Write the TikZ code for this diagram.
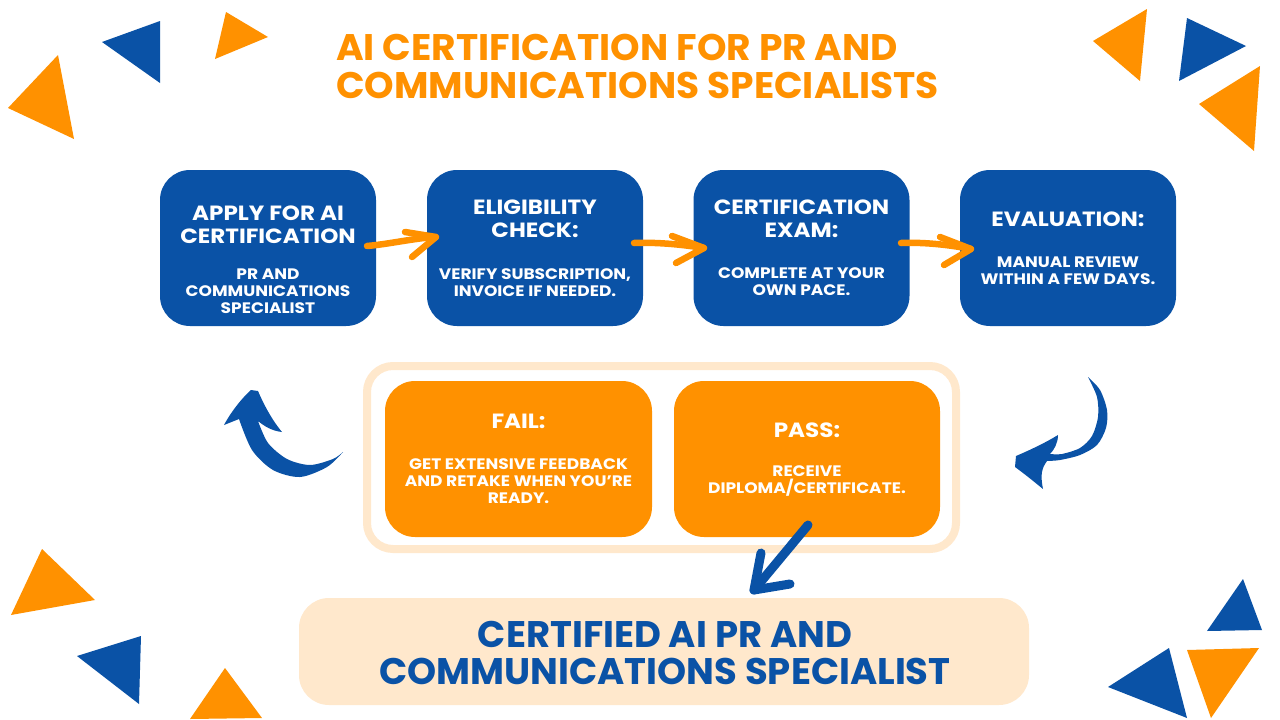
\documentclass[tikz,border=0pt]{standalone}
\usepackage{fontspec}
\setmainfont{Poppins}
\newfontfamily\boxfont{Poppins}[FakeStretch=1.12]
\newfontfamily\titlefont{Poppins}[FakeStretch=1.015]
\definecolor{cblue}{HTML}{0A52A6}
\definecolor{corange}{HTML}{FF9100}
\definecolor{cpeach}{HTML}{FFE8CC}
\tikzset{
  bluebox/.style={fill=cblue, rounded corners=30pt, minimum width=216pt, minimum height=156pt, inner sep=0pt},
  orangebox/.style={fill=corange, rounded corners=30pt, minimum width=267pt, minimum height=156pt, inner sep=0pt},
  headtxt/.style={text=white, font=\boxfont\bfseries\fontsize{20.6}{23}\selectfont, align=center, inner sep=0pt},
  subtxt/.style={text=white, font=\boxfont\bfseries\fontsize{15.2}{17}\selectfont, align=center, inner sep=0pt},
  bigtxt/.style={font=\titlefont\bfseries\fontsize{37}{38}\selectfont, inner sep=0pt},
  oarrow/.style={draw=corange, line width=6.5pt, line cap=round, line join=round},
  barrow/.style={draw=cblue, line width=9pt, line cap=round, line join=round},
}
\begin{document}
\begin{tikzpicture}[x=1pt,y=-1pt]
\useasboundingbox[fill=white] (0,0) rectangle (1280,720);

% decorative triangles
\fill[corange] (8,108) -- (58,55) -- (74,139) -- cycle;
\fill[cblue] (102,42) -- (160,21) -- (160,83) -- cycle;
\fill[corange] (226,12) -- (268,37) -- (215,59) -- cycle;
\fill[corange] (1093,41) -- (1147,9) -- (1140,81) -- cycle;
\fill[cblue] (1187,18) -- (1246,46) -- (1179,81) -- cycle;
\fill[corange] (1199,104) -- (1260,66) -- (1254,151) -- cycle;
\fill[corange] (42,549) -- (95,600) -- (11,615) -- cycle;
\fill[cblue] (77,656) -- (141,636) -- (139,704) -- cycle;
\fill[corange] (225,668) -- (262,718) -- (190,719) -- cycle;
\fill[cblue] (1243,579) -- (1262,630) -- (1207,631) -- cycle;
\fill[cblue] (1108,687) -- (1169,648) -- (1187,718) -- cycle;
\fill[corange] (1187,650) -- (1259,648) -- (1211,718) -- cycle;

% title
\node[bigtxt, text=corange, anchor=base west] (t1) at (336,60) {AI CERTIFICATION FOR PR AND};
\node[bigtxt, text=corange, anchor=base west] (t2) at (336,98) {COMMUNICATIONS SPECIALISTS};

% blue boxes
\node[bluebox] (b1) at (268,248) {};
\node[bluebox] (b2) at (535,248) {};
\node[bluebox] (b3) at (801.5,248) {};
\node[bluebox] (b4) at (1068,248) {};

\node[headtxt] (b1h) at (268,224.5) {APPLY FOR AI\\CERTIFICATION};
\node[subtxt] (b1s) at (268,291) {PR AND\\COMMUNICATIONS\\SPECIALIST};
\node[headtxt] (b2h) at (535,218.5) {ELIGIBILITY\\CHECK:};
\node[subtxt] (b2s) at (535,282.5) {VERIFY SUBSCRIPTION,\\INVOICE IF NEEDED.};
\node[headtxt] (b3h) at (801.5,218.5) {CERTIFICATION\\EXAM:};
\node[subtxt] (b3s) at (801.5,282) {COMPLETE AT YOUR\\OWN PACE.};
\node[headtxt] (b4h) at (1068,219) {EVALUATION:};
\node[subtxt] (b4s) at (1068,270.5) {MANUAL REVIEW\\WITHIN A FEW DAYS.};

% orange arrows between boxes
\coordinate (a1s) at (367,246); \coordinate (a1e) at (436,237);
\draw[oarrow] (a1s) .. controls (390,244) and (415,238) .. (a1e);
\draw[oarrow] (405,232) -- (a1e) -- (412,257);
\coordinate (a2s) at (634,243); \coordinate (a2e) at (704,248);
\draw[oarrow] (a2s) .. controls (660,242) and (685,245) .. (a2e);
\draw[oarrow] (672,236) -- (a2e) -- (676,263);
\coordinate (a3s) at (901,243); \coordinate (a3e) at (971,249);
\draw[oarrow] (a3s) .. controls (925,242) and (950,245) .. (a3e);
\draw[oarrow] (940,237) -- (a3e) -- (944,265);

% result container
\node[draw=cpeach, line width=8pt, rounded corners=26pt, minimum width=589pt, minimum height=183pt, inner sep=0pt] (cont) at (661.5,457.5) {};
\node[orangebox] (fail) at (518.5,459) {};
\node[orangebox, minimum width=266pt] (pass) at (807,459) {};
\node[headtxt] (failh) at (518.5,421) {FAIL:};
\node[subtxt] (fails) at (518.5,481) {GET EXTENSIVE FEEDBACK\\AND RETAKE WHEN YOU’RE\\READY.};
\node[headtxt] (passh) at (807,430) {PASS:};
\node[subtxt] (passs) at (807,481.5) {RECEIVE\\DIPLOMA/CERTIFICATE.};

% curved blue arrows
\fill[cblue] plot[smooth] coordinates {(343,452) (327,467) (300,477) (273,470) (252,450) (239,419)}
  -- (224,425) .. controls (232,410) and (244,396) .. (251,390) -- (258,391)
  .. controls (264,405) and (272,420) .. (282,432)
  .. controls (272,431) and (264,426) .. (258,421)
  -- plot[smooth] coordinates {(258,421) (268,443) (287,459) (310,465) (333,459) (343,452)} -- cycle;

\fill[cblue] plot[smooth] coordinates {(1088,377) (1100,390) (1107,410) (1106,428) (1097,445) (1080,455) (1060,460) (1047,461)}
  .. controls (1042,468) and (1040,474) .. (1043,489)
  .. controls (1032,480) and (1022,472) .. (1015,467) -- (1016,456)
  .. controls (1030,450) and (1045,443) .. (1058,435)
  .. controls (1058,443) and (1054,450) .. (1050,454)
  -- plot[smooth] coordinates {(1050,454) (1062,454) (1080,448) (1092,436) (1098,417) (1097,397) (1088,377)} -- cycle;

% bottom result
\node[fill=cpeach, rounded corners=30pt, minimum width=730pt, minimum height=107pt, inner sep=0pt] (cert) at (664,651.5) {};
\node[text=cblue, align=center, inner sep=0pt, font=\bfseries\fontsize{37}{37}\selectfont] (certt) at (665,652.5) {CERTIFIED AI PR AND\\COMMUNICATIONS SPECIALIST};

% down arrow
\coordinate (ds) at (808,525); \coordinate (de) at (754,590);
\draw[barrow] (ds) -- (de);
\draw[barrow] (761,553) -- (de) -- (790,584);
\end{tikzpicture}
\end{document}
